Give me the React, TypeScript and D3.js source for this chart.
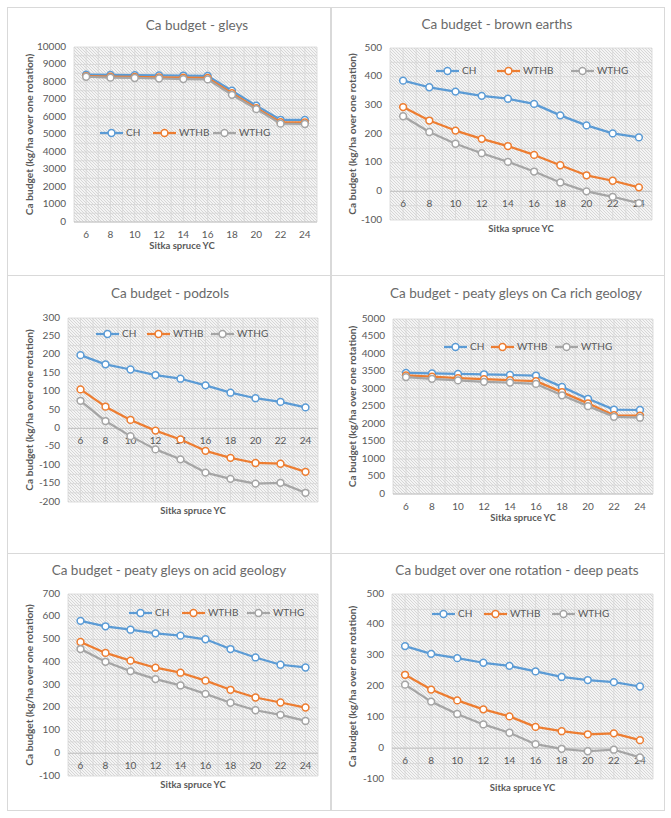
import { scaleBand, scaleLinear, line as d3Line, range } from "d3";

// Sitka spruce yield classes (x categories)
const yc = [6, 8, 10, 12, 14, 16, 18, 20, 22, 24];
const seriesNames = ["CH", "WTHB", "WTHG"];
const seriesColors = ["#5B9BD5", "#ED7D31", "#A5A5A5"];

// gleys
const gleysCH = [8420, 8410, 8390, 8380, 8370, 8350, 7500, 6650, 5840, 5830];
const gleysWTHB = [8340, 8310, 8290, 8270, 8250, 8230, 7360, 6510, 5700, 5690];
const gleysWTHG = [8300, 8250, 8230, 8200, 8170, 8150, 7270, 6450, 5620, 5600];

// brown earths
const brownCH = [386, 363, 348, 333, 323, 305, 265, 230, 202, 188];
const brownWTHB = [294, 247, 212, 183, 158, 127, 91, 56, 37, 14];
const brownWTHG = [262, 207, 166, 133, 103, 69, 31, 0, -19, -41];

// podzols
const podzolCH = [199, 174, 160, 145, 135, 117, 97, 82, 72, 57];
const podzolWTHB = [106, 59, 23, -6, -30, -61, -80, -94, -96, -118];
const podzolWTHG = [75, 20, -21, -57, -84, -120, -137, -150, -148, -175];

// peaty gleys on Ca rich geology
const peatyRichCH = [3460, 3445, 3430, 3420, 3400, 3385, 3060, 2720, 2410, 2400];
const peatyRichWTHB = [3390, 3355, 3310, 3280, 3250, 3225, 2910, 2590, 2250, 2240];
const peatyRichWTHG = [3340, 3290, 3245, 3205, 3185, 3145, 2820, 2510, 2205, 2180];

// peaty gleys on acid geology
const peatyAcidCH = [582, 558, 543, 527, 517, 501, 458, 421, 389, 377];
const peatyAcidWTHB = [489, 441, 407, 376, 354, 319, 279, 245, 223, 201];
const peatyAcidWTHG = [458, 402, 361, 326, 298, 261, 222, 189, 169, 142];

// deep peats
const deepCH = [331, 306, 292, 277, 267, 249, 231, 221, 214, 200];
const deepWTHB = [238, 190, 155, 126, 103, 69, 55, 45, 48, 26];
const deepWTHG = [206, 151, 111, 77, 50, 13, -2, -10, -5, -30];

const panels = [
  {
    title: "Ca budget - gleys",
    series: [gleysCH, gleysWTHB, gleysWTHG],
    yDomain: [0, 10000], yStep: 1000,
    box: [7, 7, 330, 275], plot: [74, 47, 317, 222],
    titleX: 197, titleY: 27,
    legendY: 133, legendX: [126, 179, 239],
    xTitleX: 182,
  },
  {
    title: "Ca budget - brown earths",
    series: [brownCH, brownWTHB, brownWTHG],
    yDomain: [-100, 500], yStep: 100,
    box: [331, 7, 664, 275], plot: [390, 48, 652, 220],
    titleX: 497, titleY: 26,
    legendY: 71, legendX: [462, 523, 597],
  },
  {
    title: "Ca budget - podzols",
    series: [podzolCH, podzolWTHB, podzolWTHG],
    yDomain: [-200, 300], yStep: 50,
    box: [7, 275, 330, 553], plot: [68, 318, 318, 502],
    titleX: 170, titleY: 295,
    legendY: 334, legendX: [122, 173, 237],
  },
  {
    title: "Ca budget - peaty gleys on Ca rich geology",
    series: [peatyRichCH, peatyRichWTHB, peatyRichWTHG],
    yDomain: [0, 5000], yStep: 500,
    box: [331, 275, 664, 553], plot: [393, 319, 653, 494],
    titleX: 516, titleY: 295,
    legendY: 347, legendX: [470, 517, 581],
  },
  {
    title: "Ca budget - peaty gleys on acid geology",
    series: [peatyAcidCH, peatyAcidWTHB, peatyAcidWTHG],
    yDomain: [-100, 700], yStep: 100,
    box: [7, 553, 330, 810], plot: [68, 594, 318, 776],
    titleX: 169, titleY: 572,
    legendY: 613, legendX: [155, 208, 273],
  },
  {
    title: "Ca budget over one rotation - deep peats",
    series: [deepCH, deepWTHB, deepWTHG],
    yDomain: [-100, 500], yStep: 100,
    box: [331, 553, 664, 810], plot: [392, 594, 653, 779],
    titleX: 517, titleY: 572,
    legendY: 614, legendX: [458, 510, 578],
  },
];

const font = "Lato, 'Open Sans', sans-serif";
const textGray = "#595959";
const gridGray = "#d9d9d9";

function Panel({ p, idx }: { p: any; idx: number }) {
  const [l, t, r, b] = p.plot;
  const x = scaleBand<number>().domain(yc).range([l, r]);
  const y = scaleLinear().domain(p.yDomain).range([b, t]);
  const ticks = range(p.yDomain[0], p.yDomain[1] + p.yStep / 2, p.yStep);
  const halfTicks = range(p.yDomain[0], p.yDomain[1], p.yStep / 2);
  const cx = (d: number) => (x(d) as number) + x.bandwidth() / 2;
  const line = d3Line<number>()
    .x((_, i) => cx(yc[i]))
    .y((d) => y(d));

  const y0 = y(0);
  const labelY = y0 + 13;
  const xTitleY = Math.max(b + 10, labelY + 12);
  const [bx0, by0, bx1, by1] = p.box;

  // vertical grid at band edges and band centres
  const vLines: number[] = [];
  yc.forEach((d) => {
    vLines.push(x(d) as number);
    vLines.push(cx(d));
  });
  vLines.push(r);

  return (
    <g>
      <rect x={bx0 + 0.5} y={by0 + 0.5} width={bx1 - bx0} height={by1 - by0} fill="#fff" stroke={gridGray} />
      <text x={p.titleX} y={p.titleY} textAnchor="middle" dominantBaseline="middle" fontSize={13.5} fill="#6a6a6a" fontFamily={font}>
        {p.title}
      </text>
      {/* plot area */}
      <defs>
        <pattern id={`hatch${idx}`} width={3} height={3} patternUnits="userSpaceOnUse" x={l} y={t}>
          <rect width={3} height={3} fill="#f4f4f4" />
          <path d="M-1,-1 L4,4 M-1,2 L1,4 M2,-1 L4,1" stroke="#c9c9c9" strokeWidth={0.7} />
        </pattern>
      </defs>
      <rect x={l} y={t} width={r - l} height={b - t} fill={`url(#hatch${idx})`} />
      {halfTicks.map((v: number) => (
        <line key={"h" + v} x1={l} x2={r} y1={y(v)} y2={y(v)} stroke="#d6d6d6" strokeWidth={0.8} />
      ))}
      <line x1={l} x2={r} y1={t} y2={t} stroke="#d6d6d6" strokeWidth={0.8} />
      {vLines.map((v, i) => (
        <line key={"v" + i} x1={v} x2={v} y1={t} y2={b} stroke="#d6d6d6" strokeWidth={0.8} />
      ))}
      <line x1={l} x2={r} y1={y0} y2={y0} stroke="#bfbfbf" strokeWidth={0.9} />
      {/* y tick labels */}
      {ticks.map((v: number) => (
        <text key={"t" + v} x={l - 8} y={y(v)} textAnchor="end" dominantBaseline="middle" fontSize={10} fill={textGray} fontFamily={font}>
          {v}
        </text>
      ))}
      {/* x tick labels */}
      {yc.map((d) => (
        <text key={"x" + d} x={cx(d)} y={labelY} textAnchor="middle" dominantBaseline="middle" fontSize={10} fill={textGray} fontFamily={font}>
          {d}
        </text>
      ))}
      <text x={p.xTitleX ?? (l + r) / 2} y={xTitleY} textAnchor="middle" dominantBaseline="middle" fontSize={9.5} fontWeight="bold" fill={textGray} fontFamily={font}>
        Sitka spruce YC
      </text>
      <text
        transform={`translate(${bx0 + (idx % 2 === 0 ? 23 : 22)},${(t + b) / 2}) rotate(-90)`}
        textAnchor="middle"
        dominantBaseline="middle"
        fontSize={10.2}
        fontWeight="bold"
        fill={textGray}
        fontFamily={font}
      >
        Ca budget (kg/ha over one rotation)
      </text>
      {/* series */}
      {p.series.map((s: number[], si: number) => (
        <g key={"s" + si}>
          <path d={line(s) as string} fill="none" stroke={seriesColors[si]} strokeWidth={2.25} strokeLinejoin="round" />
          {s.map((v, i) => (
            <circle key={i} cx={cx(yc[i])} cy={y(v)} r={3.4} fill="#fff" stroke={seriesColors[si]} strokeWidth={1.5} />
          ))}
        </g>
      ))}
      {/* legend */}
      {seriesNames.map((name, si) => {
        const tx = p.legendX[si];
        return (
          <g key={"l" + si}>
            <line x1={tx - 26} x2={tx - 3} y1={p.legendY} y2={p.legendY} stroke={seriesColors[si]} strokeWidth={2.25} />
            <circle cx={tx - 14.5} cy={p.legendY} r={3.4} fill="#fff" stroke={seriesColors[si]} strokeWidth={1.5} />
            <text x={tx} y={p.legendY} dominantBaseline="middle" fontSize={10} fill={textGray} fontFamily={font}>
              {name}
            </text>
          </g>
        );
      })}
    </g>
  );
}

export default function App() {
  return (
    <svg width={671} height={818} style={{ position: "absolute", left: 0, top: 0, background: "#fff" }}>
      <rect width={671} height={818} fill="#fff" />
      {panels.map((p, i) => (
        <Panel key={i} p={p} idx={i} />
      ))}
    </svg>
  );
}
